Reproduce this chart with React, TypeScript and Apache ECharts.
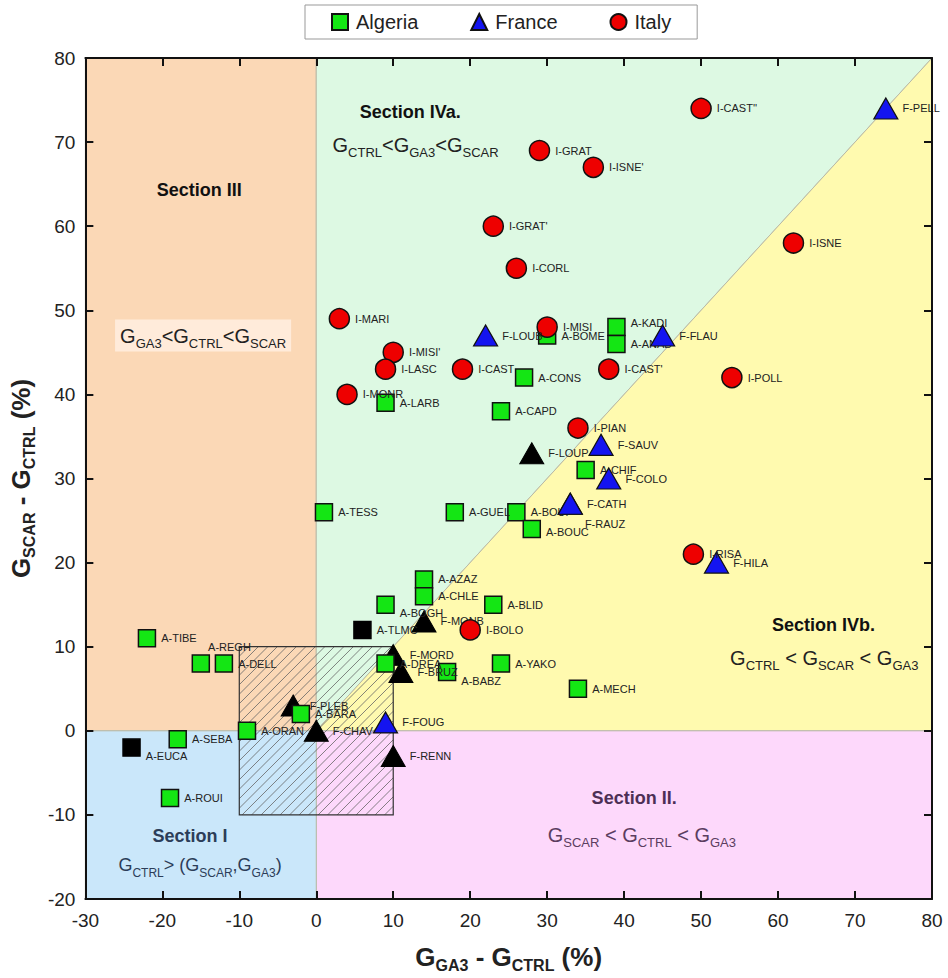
import React, { useEffect, useRef } from "react";
import * as echarts from "echarts";

// ---------- DATA ----------
const algeriaNames = ["A-KADI", "A-ANAB", "A-BOME", "A-CONS", "A-LARB", "A-CAPD", "A-CHIF", "A-TESS", "A-GUEL", "A-BOUF", "A-BOUC", "A-AZAZ", "A-CHLE", "A-BOGH", "A-BLID", "A-TIBE", "A-REGH", "A-DELL", "A-DREA", "A-BABZ", "A-YAKO", "A-MECH", "A-BARA", "A-ORAN", "A-SEBA", "A-ROUI"];
const algeriaX = [39, 39, 30, 27, 9, 24, 35, 1, 18, 26, 28, 14, 14, 9, 23, -22, -15, -12, 9, 17, 24, 34, -2, -9, -18, -19];
const algeriaY = [48, 46, 47, 42, 39, 38, 31, 26, 26, 26, 24, 18, 16, 15, 15, 11, 8, 8, 8, 7, 8, 5, 2, 0, -1, -8];

const algeriaBlackNames = ["A-TLMC", "A-EUCA"];
const algeriaBlackX = [6, -24];
const algeriaBlackY = [12, -2];

const franceNames = ["F-PELL", "F-LOUB", "F-FLAU", "F-SAUV", "F-COLO", "F-CATH", "F-RAUZ", "F-HILA", "F-FOUG"];
const franceX = [74, 22, 45, 37, 38, 33, 33, 52, 9];
const franceY = [74, 47, 47, 34, 30, 27, 27, 20, 1];

const franceBlackNames = ["F-LOUP", "F-MONB", "F-MORD", "F-BRUZ", "F-PLEB", "F-CHAV", "F-RENN"];
const franceBlackX = [28, 14, 10, 11, -3, 0, 10];
const franceBlackY = [33, 13, 9, 7, 3, 0, -3];

const italyNames = ["I-CAST''", "I-GRAT", "I-ISNE'", "I-GRAT'", "I-ISNE", "I-CORL", "I-MARI", "I-MISI", "I-MISI'", "I-LASC", "I-CAST", "I-CAST'", "I-POLL", "I-MONR", "I-PIAN", "I-RISA", "I-BOLO"];
const italyX = [50, 29, 36, 23, 62, 26, 3, 30, 10, 9, 19, 38, 54, 4, 34, 49, 20];
const italyY = [74, 69, 67, 60, 58, 55, 49, 48, 45, 43, 43, 43, 42, 40, 36, 21, 12];

const xTicks = { min: -30, max: 80, interval: 10 };
const yTicks = { min: -20, max: 80, interval: 10 };

// region polygons (data coordinates)
const regionPts = [
  [[-30, 0], [0, 0], [0, 80], [-30, 80]],
  [[0, 0], [80, 80], [0, 80]],
  [[0, 0], [80, 0], [80, 80]],
  [[0, -20], [80, -20], [80, 0], [0, 0]],
  [[-30, -20], [0, -20], [0, 0], [-30, 0]],
];
const regionColors = ["#FBD8B6", "#DDF9E3", "#FFFAAF", "#FDD8FB", "#CAE7FA"];

const hatchBox = { x0: -10, x1: 10, y0: -10, y1: 10 };

const annotationTexts = [
  "{b|Section III}",
  "{g|G}{s|GA3}{g|<G}{s|CTRL}{g|<G}{s|SCAR}",
  "{b|Section IVa.}",
  "{g|G}{s|CTRL}{g|<G}{s|GA3}{g|<G}{s|SCAR}",
  "{b|Section IVb.}",
  "{g|G}{s|CTRL}{g| < G}{s|SCAR}{g| < G}{s|GA3}",
  "{p|Section II.}",
  "{pg|G}{ps|SCAR}{pg| < G}{ps|CTRL}{pg| < G}{ps|GA3}",
  "{q|Section I}",
  "{qg|G}{qs|CTRL}{qg|> (G}{qs|SCAR}{qg|,G}{qs|GA3}{qg|)}",
];
const annotationX = [-15.2, -14.7, 12.2, 12.9, 65.9, 66.0, 41.3, 42.3, -16.4, -15.1];
const annotationY = [64.3, 47.0, 73.6, 69.7, 12.6, 8.6, -8.0, -12.4, -12.5, -16.0];

// label offsets (style, keyed by point name)
const labelOffsets: Record<string, [number, number]> = {
  "A-REGH": [-7, -17],
  "A-BOGH": [0, 8],
  "A-BABZ": [0, 9],
  "A-EUCA": [0, 8],
  "A-BOUC": [0, 3],
  "A-KADI": [0, -4],
  "F-RAUZ": [-2, 20],
};

const FONT = "'Liberation Sans', Arial, sans-serif";
const NARROW = "'Liberation Sans Narrow', 'Liberation Sans', Arial, sans-serif";

function pts(names: string[], xs: number[], ys: number[]) {
  return names.map((n, i) => {
    const item: any = { value: [xs[i], ys[i], n] };
    if (labelOffsets[n]) item.label = { offset: labelOffsets[n] };
    return item;
  });
}

const pointLabel = {
  show: true,
  position: "right",
  distance: 5,
  formatter: (p: any) => p.data.value[2],
  fontSize: 11,
  fontFamily: FONT,
  color: "#222",
};

export default function App() {
  const ref = useRef<HTMLDivElement>(null);
  useEffect(() => {
    if (!ref.current) return;
    const chart = echarts.init(ref.current, undefined, { renderer: "svg" });

    const g = (fs: number, color: string) => ({ fontSize: fs, color, fontFamily: FONT, lineHeight: 28, verticalAlign: "middle" });
    const s = (fs: number, color: string) => ({ fontSize: fs, color, fontFamily: FONT, lineHeight: 13, verticalAlign: "bottom" });
    const purple = "#4d2f55";
    const navy = "#2c3d58";

    const axisCommon = {
      type: "value",
      splitLine: { show: false },
      axisLine: { show: true, onZero: false, lineStyle: { color: "#111", width: 2 } },
      axisTick: { show: true, inside: true, length: 8, lineStyle: { color: "#111", width: 2 } },
      z: 10,
    };

    const option: any = {
      animation: false,
      backgroundColor: "#fff",
      grid: { left: 84, right: 16, top: 58, bottom: 74 },
      legend: {
        data: ["Algeria", "France", "Italy"],
        top: 5,
        left: 305,
        borderColor: "#999",
        borderWidth: 1,
        borderRadius: 0,
        padding: [7, 26, 7, 26],
        itemGap: 52,
        itemWidth: 16,
        itemHeight: 16,
        textStyle: { fontSize: 20, color: "#222", fontFamily: FONT, padding: [0, 0, 0, 3] },
      },
      xAxis: [
        {
          ...axisCommon,
          ...xTicks,
          position: "bottom",
          axisLabel: { fontSize: 19, color: "#222", fontFamily: NARROW, margin: 12 },
          name: "{g|G}{s|GA3}{g| - G}{s|CTRL}{g| (%)}",
          nameLocation: "middle",
          nameGap: 42,
          nameTextStyle: {
            rich: {
              g: { fontSize: 26, fontWeight: "bold", color: "#222", fontFamily: NARROW, lineHeight: 32, verticalAlign: "middle" },
              s: { fontSize: 16, fontWeight: "bold", color: "#222", fontFamily: NARROW, lineHeight: 16, verticalAlign: "bottom" },
            },
          },
        },
        { ...axisCommon, ...xTicks, position: "top", axisLabel: { show: false } },
      ],
      yAxis: [
        {
          ...axisCommon,
          ...yTicks,
          position: "left",
          axisLabel: { fontSize: 19, color: "#222", fontFamily: FONT, margin: 10 },
          name: "{g|G}{s|SCAR}{g| - G}{s|CTRL}{g| (%)}",
          nameLocation: "middle",
          nameGap: 46,
          nameTextStyle: {
            rich: {
              g: { fontSize: 26, fontWeight: "bold", color: "#222", fontFamily: NARROW, lineHeight: 32, verticalAlign: "middle" },
              s: { fontSize: 16, fontWeight: "bold", color: "#222", fontFamily: NARROW, lineHeight: 16, verticalAlign: "bottom" },
            },
          },
        },
        { ...axisCommon, ...yTicks, position: "right", axisLabel: { show: false } },
      ],
      series: [
        {
          type: "custom",
          name: "regions",
          silent: true,
          z: 0,
          renderItem: (params: any, api: any) => {
            const poly = regionPts[params.dataIndex].map((p) => api.coord(p));
            return {
              type: "polygon",
              shape: { points: poly },
              style: { fill: regionColors[params.dataIndex], stroke: "#b9b9a6", lineWidth: 1 },
            };
          },
          data: regionPts.map((p) => p[0]),
        },
        {
          type: "custom",
          name: "hatch",
          silent: true,
          z: 1,
          renderItem: (params: any, api: any) => {
            const tl = api.coord([hatchBox.x0, hatchBox.y1]);
            const br = api.coord([hatchBox.x1, hatchBox.y0]);
            const x0 = tl[0], y0 = tl[1], x1 = br[0], y1 = br[1];
            const children: any[] = [];
            const step = 9.5;
            for (let c = x0 + y0 + step; c < x1 + y1; c += step) {
              const xa = Math.max(x0, c - y1);
              const xb = Math.min(x1, c - y0);
              if (xb <= xa) continue;
              children.push({
                type: "line",
                shape: { x1: xa, y1: c - xa, x2: xb, y2: c - xb },
                style: { stroke: "#666", lineWidth: 0.8 },
              });
            }
            children.push({
              type: "rect",
              shape: { x: x0, y: y0, width: x1 - x0, height: y1 - y0 },
              style: { fill: "none", stroke: "#333", lineWidth: 1.2 },
            });
            return { type: "group", children };
          },
          data: [[0, 0]],
        },
        {
          type: "scatter",
          name: "France (ns)",
          symbol: "triangle",
          symbolSize: [24, 21],
          itemStyle: { color: "#000", borderColor: "#000", borderWidth: 1, opacity: 1 },
          label: { ...pointLabel, distance: 4 },
          data: pts(franceBlackNames, franceBlackX, franceBlackY),
          z: 3,
        },
        {
          type: "scatter",
          name: "Algeria",
          symbol: "rect",
          symbolSize: 17,
          itemStyle: { color: "#14e614", borderColor: "#111", borderWidth: 1.5, opacity: 1 },
          label: pointLabel,
          data: pts(algeriaNames, algeriaX, algeriaY),
          z: 3,
        },
        {
          type: "scatter",
          name: "Algeria (ns)",
          symbol: "rect",
          symbolSize: 17,
          itemStyle: { color: "#000", borderColor: "#000", borderWidth: 1.5, opacity: 1 },
          label: pointLabel,
          data: pts(algeriaBlackNames, algeriaBlackX, algeriaBlackY),
          z: 3,
        },
        {
          type: "scatter",
          name: "France",
          symbol: "triangle",
          symbolSize: [24, 21],
          itemStyle: { color: "#1414f0", borderColor: "#111", borderWidth: 1.2, opacity: 1 },
          label: { ...pointLabel, distance: 4 },
          data: pts(franceNames, franceX, franceY),
          z: 4,
        },
        {
          type: "scatter",
          name: "Italy",
          symbol: "circle",
          symbolSize: 20,
          itemStyle: { color: "#ee0000", borderColor: "#111", borderWidth: 1.5, opacity: 1 },
          label: pointLabel,
          data: pts(italyNames, italyX, italyY),
          z: 4,
        },
        {
          type: "scatter",
          name: "annotations",
          silent: true,
          symbolSize: 0,
          itemStyle: { opacity: 1 },
          z: 6,
          label: {
            show: true,
            position: "inside",
            formatter: (p: any) => annotationTexts[p.dataIndex],
            rich: {
              b: { fontSize: 18, fontWeight: "bold", color: "#111", fontFamily: FONT },
              g: g(20, "#222"),
              s: s(13, "#222"),
              p: { fontSize: 18, fontWeight: "bold", color: purple, fontFamily: FONT },
              pg: g(20, "#5b3d60"),
              ps: s(13, "#5b3d60"),
              q: { fontSize: 18, fontWeight: "bold", color: navy, fontFamily: FONT },
              qg: g(18, navy),
              qs: s(12, navy),
            },
          },
          data: annotationTexts.map((t, i) => {
            const item: any = { value: [annotationX[i], annotationY[i]] };
            if (i === 1) item.label = { backgroundColor: "rgba(255,238,225,0.85)", padding: [2, 5, 2, 5] };
            return item;
          }),
        },
      ],
    };
    chart.setOption(option);
    return () => chart.dispose();
  }, []);
  return <div ref={ref} style={{ position: "fixed", left: 0, top: 0, width: 948, height: 978 }} />;
}
